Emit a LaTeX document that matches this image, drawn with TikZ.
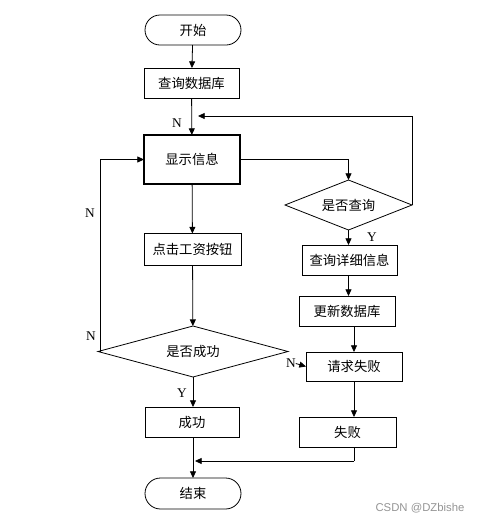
\documentclass[tikz,border=0pt]{standalone}
\usepackage{fontspec}
\setmainfont{Liberation Serif}
\newfontfamily\cjk{Noto Sans CJK SC}
\newfontfamily\wmfont{Liberation Sans}
\usetikzlibrary{shapes.geometric,shapes.misc,arrows.meta}
\begin{document}
\begin{tikzpicture}[x=0.75pt,y=-0.75pt,
  every node/.style={inner sep=0pt,outer sep=0pt},
  box/.style={draw,rectangle,line width=0.6pt,font=\cjk\fontsize{10pt}{12pt}\selectfont},
  term/.style={draw,rounded rectangle,line width=0.6pt,font=\cjk\fontsize{10pt}{12pt}\selectfont},
  lab/.style={font=\fontsize{10pt}{12pt}\selectfont},
  conn/.style={line width=0.6pt},
  arr/.style={conn,-{Triangle[length=5pt,width=4.5pt]}}]
\useasboundingbox (0,0) rectangle (484,522);
% nodes
\node[term,minimum width=72pt,minimum height=22.5pt] (start) at (193,30) {开始};
\node[box,minimum width=71.25pt,minimum height=22.5pt] (q1) at (191.5,83) {查询数据库};
\node[box,line width=1.2pt,minimum width=72pt,minimum height=36.75pt] (show) at (192,159.5) {显示信息};
\node[box,minimum width=72.75pt,minimum height=24pt] (click) at (192.5,249.5) {点击工资按钮};
\node[draw,line width=0.6pt,font=\cjk\fontsize{10pt}{12pt}\selectfont,
      shape=diamond,minimum width=95.25pt,minimum height=37.5pt,aspect=2.54] (dia1) at (348.5,205) {是否查询};
\node[box,minimum width=71.25pt,minimum height=22.5pt] (detail) at (349.5,260) {查询详细信息};
\node[box,minimum width=72pt,minimum height=22.5pt] (update) at (347,311) {更新数据库};
\node[box,minimum width=72pt,minimum height=21.75pt] (fail1) at (354,366.5) {请求失败};
\node[box,minimum width=72.75pt,minimum height=22.5pt] (fail2) at (347.5,432) {失败};
\node[draw,line width=0.6pt,font=\cjk\fontsize{10pt}{12pt}\selectfont,
      shape=diamond,minimum width=142.5pt,minimum height=38.25pt,aspect=3.72] (dia2) at (193,351.5) {是否成功};
\node[box,minimum width=70.5pt,minimum height=22.5pt] (succ) at (192,422) {成功};
\node[term,minimum width=72pt,minimum height=23.25pt] (end) at (193,493.5) {结束};
% labels
\node[lab] (n1) at (177,123) {N};
\node[lab] (n2) at (90,213) {N};
\node[lab] (n3) at (91,336) {N};
\node[lab] (n4) at (291,363.5) {N};
\node[lab] (y1) at (372,237) {Y};
\node[lab] (y2) at (182,393) {Y};
\node[font=\wmfont\fontsize{8.5pt}{10pt}\selectfont,text=black!42] (wm) at (420,508) {CSDN @DZbishe};
% coordinates
\coordinate (loopTop) at (412,116);
\coordinate (loopEnd) at (198,116);
\coordinate (failTurn) at (354,461);
\coordinate (failEnd) at (195,461);
% connectors
\draw[arr] (start) -- (q1);
\draw[arr] (q1) -- (show);
\draw[arr] (show.east) -| (dia1.north);
\draw[conn] (dia1.east) -- (loopTop);
\draw[arr] (loopTop) -- (loopEnd);
\draw[arr] (show) -- (click);
\draw[arr] (click) -- (dia2);
\draw[arr] (dia2.west) -- ++(2,0) |- (show.west);
\draw[arr] (dia1.south) -- (detail.north -| dia1.south);
\draw[arr] (detail.south -| dia1.south) -- (update.north -| dia1.south);
\draw[arr] (fail1.north |- update.south) -- (fail1.north);
\draw[arr] (n4.east) -- (fail1.west);
\draw[arr] (fail1.south) -- (fail2.north -| fail1.south);
\draw[arr] (dia2.south) -- (succ.north -| dia2.south);
\draw[arr] (succ.south -| end.north) -- (end.north);
\draw[conn] (fail2.south -| failTurn) -- (failTurn);
\draw[arr] (failTurn) -- (failEnd);
\end{tikzpicture}
\end{document}
